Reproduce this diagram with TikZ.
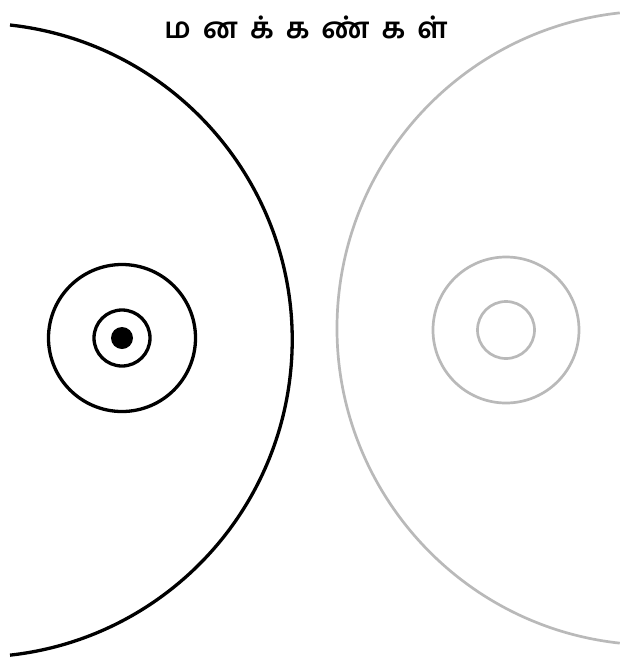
\documentclass[tikz,border=0pt]{standalone}
\usepackage{fontspec}
\newfontfamily\tamilfont[Script=Tamil]{Hind Madurai}
\usepackage{tikz}
\definecolor{negro}{RGB}{0,0,0}
\definecolor{gris}{RGB}{185,185,185}
\newcommand{\fuentetitulo}{\tamilfont\bfseries\fontsize{29}{32}\selectfont}
\newcommand{\espacio}{\hspace{12pt}}
\begin{document}
\begin{tikzpicture}[
        x=1pt, y=-1pt,
        titulo/.style={font=\fuentetitulo, inner sep=0pt},
        ojoizq/.style={draw=negro, line width=3.3pt},
        ojoder/.style={draw=gris, line width=2.7pt}
    ]
        \useasboundingbox (0,0) rectangle (620,657);
        \node[titulo] (title) at (306,27) {ம\espacio ன\espacio க்\espacio க\espacio ண்\espacio க\espacio ள்};

        \coordinate (izq) at (122,338);
        \coordinate (der) at (506,330);

        % ojo izquierdo
        \draw[ojoizq] (10,25) arc[start angle=96.3, end angle=263.7, radius=-317];
        \draw[ojoizq] (izq) circle[radius=73.5];
        \draw[ojoizq] (izq) circle[radius=28];
        \fill[negro] (izq) circle[radius=11];

        % ojo derecho
        \begin{scope}
            \clip (0,0) rectangle (620,657);
            \draw[ojoder] (654,328) ++(96.2:317) arc[start angle=96.2, end angle=263.8, radius=317];
        \end{scope}
        \draw[ojoder] (der) circle[radius=73];
        \draw[ojoder] (der) circle[radius=28.5];
    \end{tikzpicture}
\end{document}
